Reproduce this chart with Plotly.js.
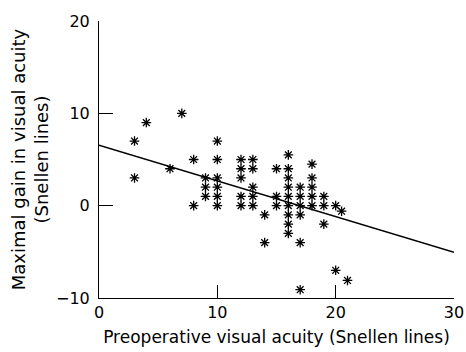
<!DOCTYPE html>
<html>
<head>
<meta charset="utf-8">
<script src="https://cdn.plot.ly/plotly-3.0.1.min.js"></script>
<style>html,body{margin:0;padding:0;background:#fff;}#chart{width:466px;height:352px;}</style>
</head>
<body>
<div id="chart"></div>
<script>
// Scatter data: preoperative visual acuity vs maximal gain (Snellen lines)
const preopVA = [3, 3, 4, 6, 7, 8, 8,
  9, 9, 9,
  10, 10, 10, 10, 10, 10,
  12, 12, 12, 12, 12,
  13, 13, 13, 13, 13,
  14, 14,
  15, 15, 15,
  16, 16, 16, 16, 16, 16, 16, 16, 16,
  17, 17, 17, 17, 17, 17,
  18, 18, 18, 18, 18,
  19, 19, 19,
  20, 20, 20.5, 21];
const gainVA = [7, 3, 9, 4, 10, 5, 0,
  3, 2, 1,
  7, 5, 3, 2, 1, 0,
  5, 4, 3, 1, 0,
  5, 4, 2, 1, 0,
  -1, -4,
  4, 1, 0,
  5.5, 4, 3, 2, 1, 0, -1, -2, -3,
  2, 1, 0, -1, -4, -9.1,
  4.5, 3, 2, 1, 0,
  1, 0, -2,
  0, -7, -0.6, -8.1];
// Regression line end points
const fitX = [0, 30];
const fitY = [6.55, -5.05];

const xTicks = [0, 10, 20, 30];
const yTicks = [-10, 0, 10, 20];

const fontFam = '"DejaVu Sans", sans-serif';

const traces = [
  {
    x: fitX, y: fitY, type: 'scatter', mode: 'lines',
    line: {color: '#000', width: 1.5}, hoverinfo: 'skip'
  },
  {
    x: preopVA, y: gainVA, type: 'scatter', mode: 'markers',
    marker: {symbol: 'asterisk-open', size: 8, color: '#000', line: {color: '#000', width: 1.3}}
  }
];

const layout = {
  width: 466, height: 352,
  margin: {l: 99, r: 12, t: 21, b: 54},
  showlegend: false,
  paper_bgcolor: '#fff', plot_bgcolor: '#fff',
  font: {family: fontFam, color: '#000', size: 16},
  xaxis: {
    range: [0, 30], tickvals: xTicks, ticktext: xTicks.map(String),
    showgrid: false, zeroline: false, showline: true, linecolor: '#000', linewidth: 1,
    ticks: 'inside', ticklen: 13, tickcolor: '#000', tickwidth: 1,
    tickfont: {size: 16, family: fontFam, color: '#000'},
    title: {text: 'Preoperative visual acuity (Snellen lines)', font: {size: 17, family: fontFam, color: '#000'}, standoff: 9},
    automargin: false
  },
  yaxis: {
    range: [-10, 20], tickvals: yTicks, ticktext: yTicks.map(v => v < 0 ? '\u2212' + Math.abs(v) : String(v)),
    showgrid: false, zeroline: false, showline: true, linecolor: '#000', linewidth: 1,
    ticks: 'inside', ticklen: 14, tickcolor: '#000', tickwidth: 1,
    ticklabelstandoff: 5,
    tickfont: {size: 16, family: fontFam, color: '#000'},
    title: {text: 'Maximal gain in visual acuity<br>(Snellen lines)', font: {size: 18, family: fontFam, color: '#000'}, standoff: 2},
    automargin: false
  }
};

Plotly.newPlot('chart', traces, layout, {displayModeBar: false, staticPlot: true});
</script>
</body>
</html>
